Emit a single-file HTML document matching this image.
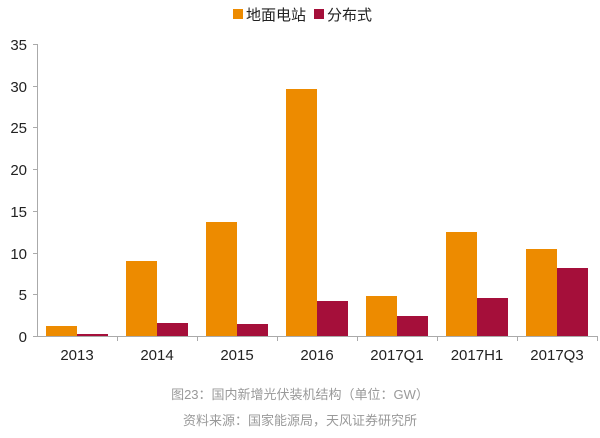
<!DOCTYPE html><html><head><meta charset="utf-8"><style>body{margin:0;background:#fff}</style></head><body>
<svg width="600" height="433" xmlns="http://www.w3.org/2000/svg" font-family="Liberation Sans, Noto Sans CJK SC, sans-serif">
<rect x="233" y="9" width="10" height="10" fill="#ED8B00"/>
<text x="246" y="20" font-size="15" fill="#222">地面电站</text>
<rect x="314" y="9" width="10" height="10" fill="#A50F3A"/>
<text x="327" y="20" font-size="15" fill="#222">分布式</text>
<g stroke="#aaa" stroke-width="1">
<line x1="37.5" y1="44" x2="37.5" y2="336"/>
<line x1="37" y1="336.5" x2="597" y2="336.5"/>
<line x1="33" y1="44.5" x2="37" y2="44.5"/><line x1="33" y1="86.5" x2="37" y2="86.5"/><line x1="33" y1="127.5" x2="37" y2="127.5"/><line x1="33" y1="169.5" x2="37" y2="169.5"/><line x1="33" y1="211.5" x2="37" y2="211.5"/><line x1="33" y1="253.5" x2="37" y2="253.5"/><line x1="33" y1="294.5" x2="37" y2="294.5"/><line x1="33" y1="336.5" x2="37" y2="336.5"/>
<line x1="117.5" y1="336" x2="117.5" y2="341"/><line x1="197.5" y1="336" x2="197.5" y2="341"/><line x1="277.5" y1="336" x2="277.5" y2="341"/><line x1="357.5" y1="336" x2="357.5" y2="341"/><line x1="437.5" y1="336" x2="437.5" y2="341"/><line x1="517.5" y1="336" x2="517.5" y2="341"/><line x1="597.5" y1="336" x2="597.5" y2="341"/>
</g>
<g font-size="15" fill="#222" text-anchor="end">
<text x="27" y="50">35</text><text x="27" y="92">30</text><text x="27" y="133">25</text><text x="27" y="175">20</text><text x="27" y="217">15</text><text x="27" y="259">10</text><text x="27" y="300">5</text><text x="27" y="342">0</text>
</g>
<g fill="#ED8B00">
<rect x="46" y="326" width="31" height="10"/>
<rect x="126" y="261" width="31" height="75"/>
<rect x="206" y="222" width="31" height="114"/>
<rect x="286" y="89" width="31" height="247"/>
<rect x="366" y="296" width="31" height="40"/>
<rect x="446" y="232" width="31" height="104"/>
<rect x="526" y="249" width="31" height="87"/>
</g>
<g fill="#A50F3A">
<rect x="77" y="334" width="31" height="2"/>
<rect x="157" y="323" width="31" height="13"/>
<rect x="237" y="324" width="31" height="12"/>
<rect x="317" y="301" width="31" height="35"/>
<rect x="397" y="316" width="31" height="20"/>
<rect x="477" y="298" width="31" height="38"/>
<rect x="557" y="268" width="31" height="68"/>
</g>
<g font-size="15" fill="#222" text-anchor="middle">
<text x="77" y="360">2013</text><text x="157" y="360">2014</text><text x="237" y="360">2015</text><text x="317" y="360">2016</text><text x="397" y="360">2017Q1</text><text x="477" y="360">2017H1</text><text x="557" y="360">2017Q3</text>
</g>
<text x="300" y="399" font-size="13" fill="#999" text-anchor="middle">图23：国内新增光伏装机结构（单位：GW）</text>
<text x="300" y="425" font-size="13" fill="#999" text-anchor="middle">资料来源：国家能源局，天风证券研究所</text>
</svg>
</body></html>
